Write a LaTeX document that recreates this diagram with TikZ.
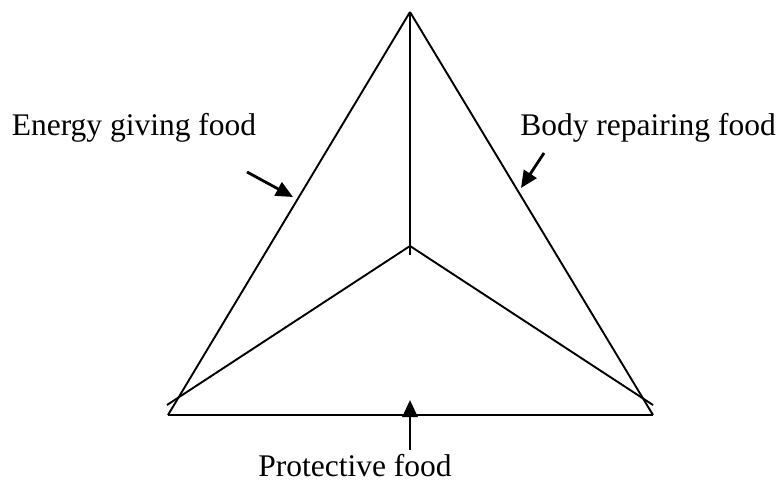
\documentclass[tikz,border=0pt]{standalone}
\usepackage{fontspec}
\setmainfont{Liberation Serif}
\usetikzlibrary{arrows.meta}
\begin{document}
\begin{tikzpicture}[x=1pt,y=-1pt,
  edge/.style={line width=1.9pt},
  pointer/.style={line width=2.8pt,-{Triangle[length=17pt,width=15pt]}},
  lbl/.style={font=\fontsize{31.5}{36}\selectfont,inner sep=0pt}]
\useasboundingbox (0,0) rectangle (781,486);
\coordinate (apex) at (410,12);
\coordinate (bl) at (168,415);
\coordinate (br) at (653,415);
\coordinate (ctr) at (410,246);
\coordinate (vend) at (410,255);
\coordinate (il) at (167,405);
\coordinate (ir) at (653,405);
\draw[edge] (bl) -- (br);
\draw[edge] (apex) -- (bl);
\draw[edge] (apex) -- (br);
\draw[edge] (apex) -- (vend);
\draw[edge] (ctr) -- (il);
\draw[edge] (ctr) -- (ir);
\node[lbl] (e) at (134,128) {Energy giving food};
\node[lbl] (b) at (648,128) {Body repairing food};
\node[lbl] (p) at (355,466) {Protective food};
\coordinate (ea) at (247,172);
\coordinate (et) at (293,197);
\coordinate (ba) at (544,153);
\coordinate (bt) at (521,188);
\coordinate (pa) at (410,450);
\coordinate (pt) at (410,400);
\draw[pointer] (ea) -- (et);
\draw[pointer] (ba) -- (bt);
\draw[pointer] (pa) -- (pt);
\end{tikzpicture}
\end{document}
